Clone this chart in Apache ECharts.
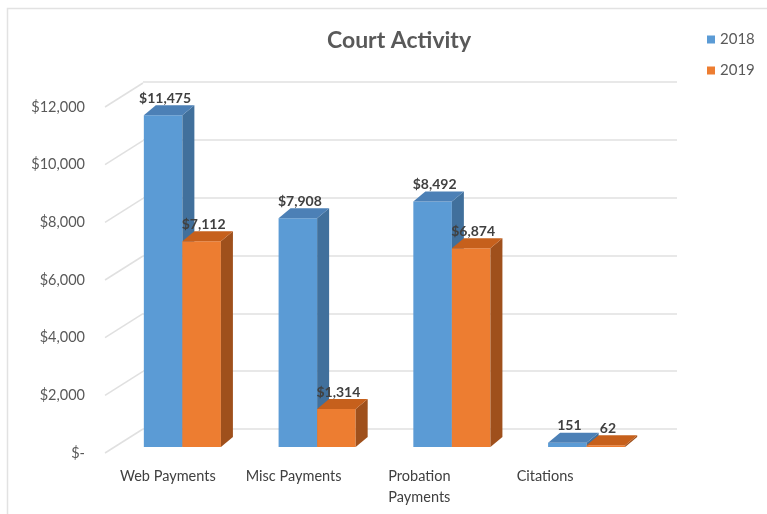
<!DOCTYPE html>
<html>
<head>
<meta charset="utf-8">
<script src="https://cdn.jsdelivr.net/npm/echarts@6/dist/echarts.min.js"></script>
<style>
  html, body { margin: 0; padding: 0; background: #fff; }
  #main { width: 767px; height: 514px; }
</style>
</head>
<body>
<div id="main"></div>
<script>
var categories = ['Web Payments', 'Misc Payments', 'Probation\nPayments', 'Citations'];
var isMoney = [true, true, true, false];
var years = ['2018', '2019'];
var values2018 = [11475, 7908, 8492, 151];
var values2019 = [7112, 1314, 6874, 62];
var yTicks = [0, 2000, 4000, 6000, 8000, 10000, 12000];

var font = 'Lato, "Open Sans", sans-serif';
var depthX = 12, depthY = -10;   // oblique offset of the 3D boxes

// face colours: front, top, side
var faces = [
  ['#5b9bd5', '#4c80b6', '#41709c'],
  ['#ed7d31', '#c6601c', '#9f501c']
];

function money(v) {
  return v === 0 ? '$-' : '$' + v.toLocaleString('en-US');
}

function bar3d(serieIdx) {
  return function (params, api) {
    var ci = api.value(0);
    var v = api.value(1);
    var top = api.coord([ci, v]);
    var base = api.coord([ci, 0]);
    var band = api.size([1, 0])[0];
    var w = band * 0.286;
    var x = serieIdx === 0 ? top[0] - w : top[0];
    var yt = top[1], yb = base[1];
    var c = faces[serieIdx];
    return {
      type: 'group',
      children: [
        { type: 'rect', shape: { x: x, y: yt, width: w, height: yb - yt }, style: { fill: c[0] } },
        { type: 'polygon', shape: { points: [[x + w, yt], [x + w + depthX, yt + depthY], [x + w + depthX, yb + depthY], [x + w, yb]] }, style: { fill: c[2] } },
        { type: 'polygon', shape: { points: [[x, yt], [x + w, yt], [x + w + depthX, yt + depthY], [x + depthX, yt + depthY]] }, style: { fill: c[1] } },
        { type: 'text', style: {
            text: isMoney[ci] ? money(v) : String(v),
            x: x + w / 2 + 2, y: yt - 10,
            align: 'center', verticalAlign: 'bottom',
            font: 'bold 14px ' + font, fill: '#404040'
        } }
      ]
    };
  };
}

var chart = echarts.init(document.getElementById('main'));

chart.setOption({
  backgroundColor: '#fff',
  animation: false,
  graphic: [{
    type: 'rect', shape: { x: 7.5, y: 8.5, width: 820, height: 600 },
    style: { fill: null, stroke: '#e2e2e2', lineWidth: 1.5 }, silent: true
  }],
  title: {
    text: 'Court Activity', left: 394, top: 24, textAlign: 'center',
    textStyle: { fontFamily: font, fontSize: 23, fontWeight: 'bold', color: '#595959' }
  },
  legend: {
    data: years, orient: 'vertical', left: 702, top: 27,
    itemWidth: 8, itemHeight: 8, itemGap: 16, icon: 'rect',
    textStyle: { fontFamily: font, fontSize: 15, color: '#595959' }
  },
  grid: [
    { left: 105, top: 107, width: 503, height: 346 },   // front: axis labels
    { left: 143, top: 82, width: 534, height: 347 },    // back wall: gridlines
    { left: 115, top: 100, width: 539, height: 347 }    // bars
  ],
  xAxis: [
    { gridIndex: 0, type: 'category', data: categories,
      axisLine: { show: false }, axisTick: { show: false },
      axisLabel: { margin: 13, fontFamily: font, fontSize: 14.5, color: '#404040', lineHeight: 21 } },
    { gridIndex: 1, type: 'category', data: categories, show: false },
    { gridIndex: 2, type: 'category', data: categories, show: false }
  ],
  yAxis: [
    { gridIndex: 0, type: 'value', min: 0, max: 12000, interval: 2000,
      splitLine: { show: false }, axisLine: { show: false },
      axisLabel: { margin: 20, fontFamily: font, fontSize: 14.5, color: '#595959', formatter: money } },
    { gridIndex: 1, type: 'value', min: 0, max: 12000, interval: 2000,
      axisLabel: { show: false }, axisLine: { show: false },
      splitLine: { lineStyle: { color: '#e0e0e0', width: 1.5 } } },
    { gridIndex: 2, type: 'value', min: 0, max: 12000, interval: 2000, show: false }
  ],
  series: [
    { type: 'custom', name: 'grid depth', xAxisIndex: 0, yAxisIndex: 0, silent: true,
      data: yTicks.map(function (t) { return [0, t]; }),
      renderItem: function (params, api) {
        var p = api.coord([0, api.value(1)]);
        var x0 = params.coordSys.x;
        return { type: 'line', shape: { x1: x0, y1: p[1], x2: x0 + 38, y2: p[1] - 24 },
                 style: { stroke: '#e0e0e0', lineWidth: 1.5 } };
      } },
    { type: 'custom', name: years[0], xAxisIndex: 2, yAxisIndex: 2,
      itemStyle: { color: faces[0][0] },
      data: values2018.map(function (v, i) { return [i, v]; }),
      renderItem: bar3d(0) },
    { type: 'custom', name: years[1], xAxisIndex: 2, yAxisIndex: 2,
      itemStyle: { color: faces[1][0] },
      data: values2019.map(function (v, i) { return [i, v]; }),
      renderItem: bar3d(1) }
  ]
});
</script>
</body>
</html>
